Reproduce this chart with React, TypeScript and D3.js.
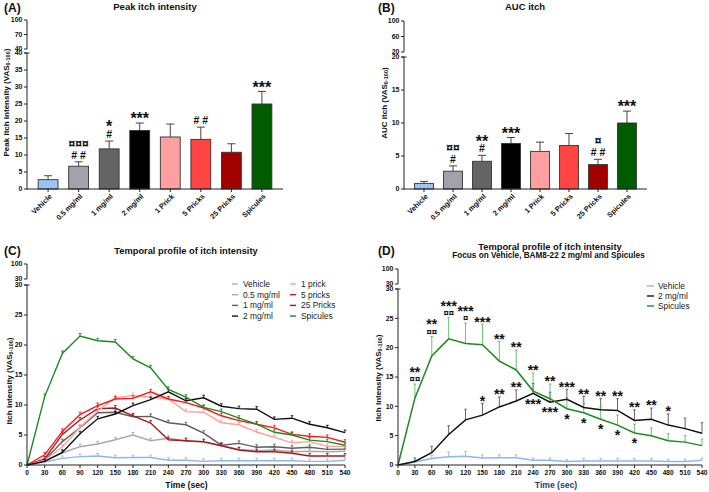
import React from "react";
import * as d3 from "d3";

// ---------------- data ----------------
const barCategories = ["Vehicle", "0.5 mg/ml", "1 mg/ml", "2 mg/ml", "1 Prick", "5 Pricks", "25 Pricks", "Spicules"];
const barColors = ["#9DC3F4", "#A2A2AA", "#646464", "#000000", "#FF9F9F", "#FF4444", "#A30000", "#005C00"];
const peakMean = [2.75, 6.7, 11.8, 17.2, 15.3, 14.6, 10.8, 25.0];
const peakSem = [1.15, 1.3, 2.3, 2.2, 3.8, 3.6, 2.5, 3.7];
const aucMean = [0.85, 2.7, 4.2, 6.9, 5.7, 6.6, 3.7, 10.0];
const aucSem = [0.3, 0.8, 0.9, 0.9, 1.4, 1.8, 0.8, 1.8];
const peakMarks: string[][] = [[], ["##", "¤¤¤"], ["#", "*"], ["***"], [], ["##"], [], ["***"]];
const aucMarks: string[][] = [[], ["#", "¤¤"], ["#", "**"], ["***"], [], [], ["##", "¤"], ["***"]];
const peakTicksLower = [0, 5, 10, 15, 20, 25, 30, 35, 40];
const peakTicksUpper = [40, 70, 100];
const aucTicksLower = [0, 5, 10, 15, 20];
const aucTicksUpper = [20, 60, 100];

const times = [0, 30, 60, 90, 120, 150, 180, 210, 240, 270, 300, 330, 360, 390, 420, 450, 480, 510, 540];
const timeTicksLower = [0, 5, 10, 15, 20, 25, 30];
const timeTicksUpper = [30, 100];
const seriesNames = ["Vehicle", "0.5 mg/ml", "1 mg/ml", "2 mg/ml", "1 prick", "5 pricks", "25 Pricks", "Spicules"];
const seriesColors = ["#8DB6F2", "#A8A8A8", "#5E5E5E", "#111111", "#FF9E9E", "#FF1414", "#A81818", "#1E8A1E"];
const vehicleTC = [0, 0.5, 1.1, 1.4, 1.5, 1.2, 1.25, 1.25, 0.8, 0.8, 0.6, 0.7, 0.7, 0.7, 0.7, 0.7, 0.6, 0.6, 0.8];
const mg05TC = [0, 0.6, 2.0, 3.05, 3.5, 4.2, 5.0, 4.05, 4.45, 4.0, 3.8, 3.2, 2.6, 2.4, 2.5, 2.2, 2.3, 2.2, 2.3];
const mg1TC = [0, 0.8, 3.9, 6.2, 8.7, 8.8, 8.05, 8.1, 7.05, 6.7, 5.3, 3.3, 3.6, 2.95, 3.05, 2.8, 2.95, 2.6, 2.65];
const mg2TC = [0, 0.6, 2.1, 5.2, 7.7, 8.5, 9.9, 10.9, 12.2, 10.7, 11.2, 9.8, 9.4, 9.3, 7.6, 7.8, 6.8, 6.2, 5.4];
const prick1TC = [0, 0.8, 3.0, 6.3, 9.0, 11.2, 11.6, 11.3, 11.0, 8.9, 8.8, 7.05, 6.7, 5.5, 4.6, 3.7, 3.9, 3.1, 3.1];
const pricks5TC = [0, 1.7, 5.6, 8.4, 9.9, 11.0, 11.1, 12.2, 11.0, 10.4, 9.5, 8.2, 7.4, 6.8, 6.2, 5.1, 4.8, 4.6, 3.8];
const pricks25TC = [0, 1.0, 5.1, 7.5, 9.4, 9.5, 8.2, 7.0, 4.2, 4.05, 3.9, 3.2, 2.5, 2.2, 2.2, 1.95, 1.5, 1.5, 1.5];
const spiculesTC = [0, 11.4, 18.6, 21.5, 20.7, 20.5, 17.7, 16.2, 12.6, 11.3, 9.6, 8.9, 7.8, 6.8, 5.45, 5.0, 4.15, 3.9, 3.3];
const vehicleSem = [0, 0.3, 0.5, 0.8, 0.8, 0.5, 0.5, 0.5, 0.4, 0.4, 0.3, 0.4, 0.4, 0.4, 0.4, 0.4, 0.4, 0.4, 0.4];
const mg2Sem = [0, 0.6, 1.1, 1.5, 1.8, 2.0, 1.7, 1.9, 1.7, 1.7, 1.7, 1.9, 1.9, 2.0, 1.8, 1.9, 1.9, 1.8, 1.8];
const spiculesSem = [0, 2.4, 3.3, 3.6, 3.5, 3.5, 3.4, 3.4, 3.1, 2.5, 1.9, 1.6, 2.1, 1.7, 1.5, 1.3, 1.2, 1.1, 1.1];
const dAboveMarks: string[][] = [[], ["¤¤", "**"], ["¤¤", "**"], ["¤¤", "***"], ["¤", "***"], ["***"], ["**"], ["**"], ["**"], ["**"], ["***"], ["**"], ["**"], ["**"], ["**"], ["**"], ["*"], [], []];
const dBlackMarks = ["", "", "", "", "", "*", "**", "**", "", "", "", "", "", "", "", "", "", "", ""];
const dBelowMarks = ["", "", "", "", "", "", "", "", "***", "***", "*", "*", "*", "*", "*", "", "", "", ""];
const dNames = ["Vehicle", "2 mg/ml", "Spicules"];

// ---------------- helpers ----------------
const FONT = "'Liberation Sans', Arial, Helvetica, sans-serif";
const AX = "#222";

type MarkStyle = { star: number; hash: number; curr: number; gapStar: number; gapOther: number; gapBetween: number };

function metrics(s: string, st: MarkStyle) {
  const k = s[0];
  if (k === "*") return { f: st.star, b: 0.42, t: 0.72, ls: 0 };
  if (k === "#") return { f: st.hash, b: 0.0, t: 0.71, ls: 3 };
  return { f: st.curr, b: 0.12, t: 0.6, ls: 0 };
}

// one <text> element holding all stacked significance lines
function MarkStack({ cx, yTop, lines, st }: { cx: number; yTop: number; lines: string[]; st: MarkStyle }) {
  if (!lines.length) return null;
  let bottom = yTop;
  const spans: React.ReactNode[] = [];
  lines.forEach((s, i) => {
    const m = metrics(s, st);
    bottom -= i === 0 ? (s[0] === "*" ? st.gapStar : st.gapOther) : st.gapBetween;
    const base = bottom + m.b * m.f;
    spans.push(
      <tspan key={i} x={cx + m.ls / 2} y={base} fontSize={m.f} letterSpacing={m.ls}>
        {s}
      </tspan>
    );
    bottom = base - m.t * m.f;
  });
  return (
    <text fontWeight="bold" textAnchor="middle" fill="#111">
      {spans}
    </text>
  );
}

function BrokenYAxis({ x, yL, yU, lowerTicks, upperTicks }: any) {
  const [l0, l1] = yL.range();
  const [u0, u1] = yU.range();
  return (
    <g stroke={AX} fill="none">
      <line x1={x} x2={x} y1={l0 + 0.5} y2={l1} strokeWidth={1} />
      <line x1={x} x2={x} y1={u0} y2={u1} strokeWidth={1} />
      <line x1={x - 2.5} x2={x + 2.5} y1={l1} y2={l1} strokeWidth={1} />
      {lowerTicks.map((t: number) => (
        <g key={"l" + t}>
          <line x1={x - 3} x2={x} y1={yL(t)} y2={yL(t)} strokeWidth={1} />
          <text x={x - 4.5} y={yL(t)} dy="0.35em" textAnchor="end" fontSize={7} fontWeight="bold" fill="#111" stroke="none">
            {t}
          </text>
        </g>
      ))}
      {upperTicks.map((t: number) => (
        <g key={"u" + t}>
          <line x1={x - 3} x2={x} y1={yU(t)} y2={yU(t)} strokeWidth={1} />
          <text x={x - 4.5} y={yU(t)} dy="0.35em" textAnchor="end" fontSize={7} fontWeight="bold" fill="#111" stroke="none">
            {t}
          </text>
        </g>
      ))}
    </g>
  );
}

function YLabel({ x, y, text }: { x: number; y: number; text: string }) {
  return (
    <text transform={`translate(${x},${y}) rotate(-90)`} textAnchor="middle" fontSize={8} fontWeight="bold" fill="#111">
      {text} (VAS
      <tspan fontSize={5.6} dy={1.8}>0-100</tspan>
      <tspan dy={-1.8}>)</tspan>
    </text>
  );
}

const barMarkStyle: MarkStyle = { star: 16, hash: 10.5, curr: 12, gapStar: 5.5, gapOther: 3, gapBetween: 5 };
const dMarkStyle: MarkStyle = { star: 14, hash: 9, curr: 9.5, gapStar: 3.5, gapOther: 3, gapBetween: 5.5 };

function BarPanel({ cfg, means, sems, marks, lowerTicks, upperTicks }: any) {
  const x = d3.scalePoint<string>().domain(barCategories).range([cfg.x0, cfg.x1]).padding(0.69);
  const yL = d3.scaleLinear().domain([0, cfg.lowerMax]).range([cfg.yBottom, cfg.lowerTop]);
  const yU = d3.scaleLinear().domain([cfg.lowerMax, 100]).range([cfg.upperBottom, cfg.upperTop]);
  const bw = x.step() * 0.65;
  return (
    <g>
      <text x={cfg.letterX} y={cfg.letterY} fontSize={12} fontWeight="bold" fill="#111">{cfg.letter}</text>
      <text x={cfg.titleX} y={cfg.titleY} fontSize={9.5} fontWeight="bold" textAnchor="middle" fill="#111">{cfg.title}</text>
      <YLabel x={cfg.labelX} y={cfg.labelY} text={cfg.yLabel} />
      {barCategories.map((c, i) => {
        const cx = x(c)!;
        const top = yL(means[i]);
        const et = yL(means[i] + sems[i]);
        return (
          <g key={c}>
            <line x1={cx} x2={cx} y1={top} y2={et} stroke="#444" strokeWidth={1} />
            <line x1={cx - 4} x2={cx + 4} y1={et} y2={et} stroke="#444" strokeWidth={1} />
            <rect x={cx - bw / 2} y={top} width={bw} height={cfg.yBottom - top} fill={barColors[i]} stroke="#333" strokeWidth={0.9} />
            <MarkStack cx={cx} yTop={et} lines={marks[i]} st={barMarkStyle} />
          </g>
        );
      })}
      <line x1={cfg.x0} x2={cfg.x1} y1={cfg.yBottom} y2={cfg.yBottom} stroke={AX} strokeWidth={1} />
      {barCategories.map((c) => (
        <g key={"t" + c}>
          <line x1={x(c)!} x2={x(c)!} y1={cfg.yBottom} y2={cfg.yBottom + 3} stroke={AX} strokeWidth={1} />
          <text transform={`translate(${x(c)! + 2.5},${cfg.yBottom + 6}) rotate(-45)`} textAnchor="end" dy="0.35em" fontSize={7.3} fontWeight="bold" fill="#111">
            {c}
          </text>
        </g>
      ))}
      <BrokenYAxis x={cfg.x0} yL={yL} yU={yU} lowerTicks={lowerTicks} upperTicks={upperTicks} />
    </g>
  );
}

function TimeXAxis({ x, y0, x0, x1, label, labelX, labelColor }: any) {
  return (
    <g>
      <line x1={x0} x2={x1} y1={y0} y2={y0} stroke={AX} strokeWidth={1} />
      {times.map((t) => (
        <g key={t}>
          <line x1={x(t)} x2={x(t)} y1={y0} y2={y0 + 3} stroke={AX} strokeWidth={1} />
          <text x={x(t)} y={y0 + 10} textAnchor="middle" fontSize={6.6} fontWeight="bold" fill="#111">{t}</text>
        </g>
      ))}
      <text x={labelX} y={y0 + 22.5} textAnchor="middle" fontSize={8.6} fontWeight="bold" fill={labelColor}>{label}</text>
    </g>
  );
}

function PanelC() {
  const cfg = { x0: 27, x1: 345, y0: 465, lowerTop: 285, upperBottom: 279, upperTop: 264 };
  const x = d3.scaleLinear().domain([0, 540]).range([cfg.x0, cfg.x1]);
  const yL = d3.scaleLinear().domain([0, 30]).range([cfg.y0, cfg.lowerTop]);
  const yU = d3.scaleLinear().domain([30, 100]).range([cfg.upperBottom, cfg.upperTop]);
  const all = [vehicleTC, mg05TC, mg1TC, mg2TC, prick1TC, pricks5TC, pricks25TC, spiculesTC];
  const order = [0, 1, 2, 6, 4, 5, 3, 7];
  const line = d3.line<number>().x((_, i) => x(times[i])).y((v) => yL(v));
  return (
    <g>
      <text x={4} y={255} fontSize={12} fontWeight="bold" fill="#111">(C)</text>
      <text x={186} y={253.5} fontSize={9.3} fontWeight="bold" textAnchor="middle" fill="#111">Temporal profile of itch intensity</text>
      <YLabel x={11.5} y={381} text="Itch intensity" />
      {order.map((k) => (
        <g key={k}>
          <path d={line(all[k]) || ""} fill="none" stroke={seriesColors[k]} strokeWidth={1.4} />
          {all[k].map((v, i) =>
            i === 0 ? null : (
              <g key={i} stroke={seriesColors[k]} strokeWidth={0.9}>
                <line x1={x(times[i])} x2={x(times[i])} y1={yL(v)} y2={yL(v) - 2.5} />
                <line x1={x(times[i]) - 1.3} x2={x(times[i]) + 1.3} y1={yL(v) - 2.5} y2={yL(v) - 2.5} />
              </g>
            )
          )}
        </g>
      ))}
      <TimeXAxis x={x} y0={cfg.y0} x0={cfg.x0} x1={cfg.x1} label="Time (sec)" labelX={186.5} labelColor="#111" />
      <BrokenYAxis x={cfg.x0} yL={yL} yU={yU} lowerTicks={timeTicksLower} upperTicks={timeTicksUpper} />
      {seriesNames.map((n, k) => {
        const col = Math.floor(k / 4);
        const row = k % 4;
        const lx = col === 0 ? 232 : 290;
        const ly = 284 + row * 10.7;
        return (
          <g key={n}>
            <line x1={lx} x2={lx + 6} y1={ly} y2={ly} stroke={seriesColors[k]} strokeWidth={1.4} />
            <text x={lx + 11} y={ly} dy="0.35em" fontSize={8.4} fill="#222">{n}</text>
          </g>
        );
      })}
    </g>
  );
}

function PanelD() {
  const cfg = { x0: 398, x1: 702, y0: 465, lowerTop: 289, upperBottom: 284, upperTop: 269 };
  const x = d3.scaleLinear().domain([0, 540]).range([cfg.x0, cfg.x1]);
  const yL = d3.scaleLinear().domain([0, 30]).range([cfg.y0, cfg.lowerTop]);
  const yU = d3.scaleLinear().domain([30, 100]).range([cfg.upperBottom, cfg.upperTop]);
  const line = d3.line<number>().x((_, i) => x(times[i])).y((v) => yL(v));
  const sets = [
    { v: vehicleTC, s: vehicleSem, c: seriesColors[0], e: "#8DB6F2" },
    { v: mg2TC, s: mg2Sem, c: "#111111", e: "#555555" },
    { v: spiculesTC, s: spiculesSem, c: "#1E8A1E", e: "#5DBB5D" },
  ];
  return (
    <g>
      <text x={378} y={254.5} fontSize={12} fontWeight="bold" fill="#111">(D)</text>
      <text x={550} y={249.5} fontSize={9.3} fontWeight="bold" textAnchor="middle" fill="#111">Temporal profile of itch intensity</text>
      <text x={548.5} y={258} fontSize={8.2} fontWeight="bold" textAnchor="middle" fill="#111">Focus on Vehicle, BAM8-22 2 mg/ml and Spicules</text>
      <YLabel x={380.5} y={378} text="Itch Intensity" />
      {sets.map((st, k) => (
        <g key={"e" + k} stroke={st.e} strokeWidth={0.9}>
          {st.v.map((v, i) =>
            i === 0 ? null : (
              <g key={i}>
                <line x1={x(times[i])} x2={x(times[i])} y1={yL(v)} y2={yL(v + st.s[i])} />
                <line x1={x(times[i]) - 1.3} x2={x(times[i]) + 1.3} y1={yL(v + st.s[i])} y2={yL(v + st.s[i])} />
              </g>
            )
          )}
        </g>
      ))}
      {sets.map((st, k) => (
        <path key={"l" + k} d={line(st.v) || ""} fill="none" stroke={st.c} strokeWidth={1.5} />
      ))}
      {times.map((t, i) => {
        const top = Math.min(yL(spiculesTC[i] + spiculesSem[i]), yL(mg2TC[i] + mg2Sem[i]));
        const low = Math.max(yL(spiculesTC[i]), yL(mg2TC[i]));
        return (
          <g key={"m" + t}>
            <MarkStack cx={x(t)} yTop={top} lines={dAboveMarks[i]} st={dMarkStyle} />
            {dBlackMarks[i] ? <MarkStack cx={x(t)} yTop={yL(mg2TC[i] + mg2Sem[i])} lines={[dBlackMarks[i]]} st={dMarkStyle} /> : null}
            {dBelowMarks[i] ? (
              <text x={x(t)} y={low + 5 + 0.72 * 14} fontSize={14} fontWeight="bold" textAnchor="middle" fill="#111">{dBelowMarks[i]}</text>
            ) : null}
          </g>
        );
      })}
      <TimeXAxis x={x} y0={cfg.y0} x0={cfg.x0} x1={cfg.x1} label="Time (sec)" labelX={556} labelColor="#1F3C78" />
      <BrokenYAxis x={cfg.x0} yL={yL} yU={yU} lowerTicks={timeTicksLower} upperTicks={timeTicksUpper} />
      {dNames.map((n, k) => {
        const ly = 286 + k * 10;
        return (
          <g key={n}>
            <line x1={647} x2={654} y1={ly} y2={ly} stroke={sets[k].c} strokeWidth={1.4} />
            <text x={658} y={ly} dy="0.35em" fontSize={8.4} fill="#222">{n}</text>
          </g>
        );
      })}
    </g>
  );
}

export default function App() {
  const cfgA = { letter: "(A)", letterX: 4, letterY: 12, title: "Peak itch intensity", titleX: 155, titleY: 9.5, yLabel: "Peak itch intensity", labelX: 8.5, labelY: 102.5, x0: 27, x1: 283, yBottom: 189, lowerTop: 53, upperBottom: 49, upperTop: 20, lowerMax: 40 };
  const cfgB = { letter: "(B)", letterX: 378, letterY: 12, title: "AUC itch", titleX: 525, titleY: 9.5, yLabel: "AUC itch", labelX: 386.5, labelY: 103, x0: 404, x1: 647, yBottom: 189, lowerTop: 57, upperBottom: 52, upperTop: 21, lowerMax: 20 };
  return (
    <svg width={709} height={492} viewBox="0 0 709 492" style={{ position: "absolute", left: 0, top: 0, background: "#fff" }} fontFamily={FONT}>
      <rect width={709} height={492} fill="#fff" />
      <BarPanel cfg={cfgA} means={peakMean} sems={peakSem} marks={peakMarks} lowerTicks={peakTicksLower} upperTicks={peakTicksUpper} />
      <BarPanel cfg={cfgB} means={aucMean} sems={aucSem} marks={aucMarks} lowerTicks={aucTicksLower} upperTicks={aucTicksUpper} />
      <PanelC />
      <PanelD />
    </svg>
  );
}
